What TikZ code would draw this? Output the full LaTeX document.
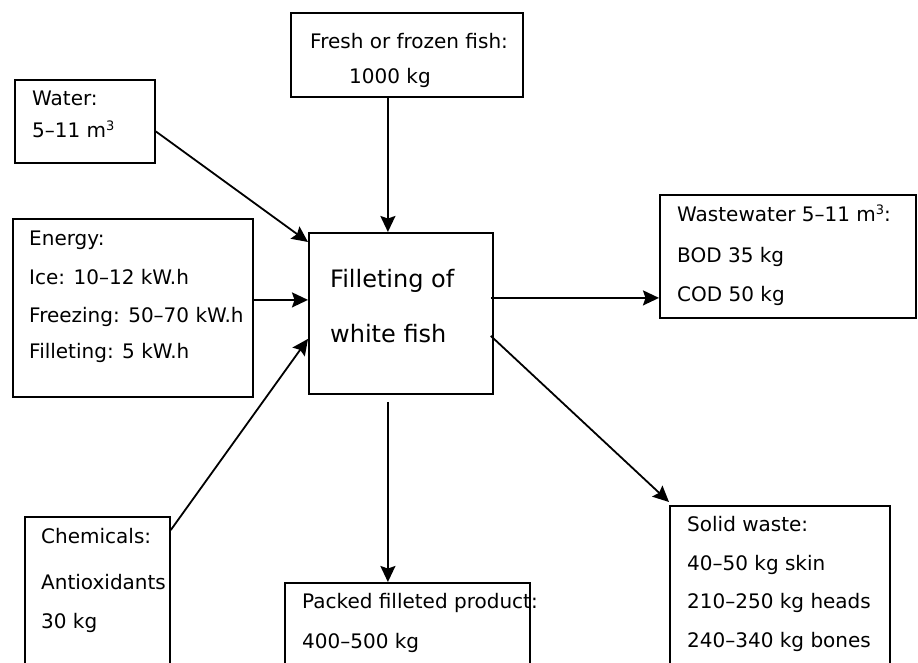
\documentclass[tikz,border=0pt]{standalone}
\usepackage{fontspec}
\setmainfont{DejaVu Sans}
\usetikzlibrary{arrows.meta,calc}
\newcommand{\cubed}{\raisebox{7pt}{\fontsize{13}{13}\selectfont 3}}
\tikzset{
  box/.style={draw, line width=1.8pt, rectangle, inner sep=0pt, anchor=north west},
  lbl/.style={anchor=base west, inner sep=0pt, font=\fontsize{20}{24}\selectfont},
  big/.style={anchor=base west, inner sep=0pt, font=\fontsize{24}{28}\selectfont},
  flow/.style={line width=1.8pt, -{Stealth[length=16pt,width=15pt,inset=2.5pt]}}
}
\begin{document}
\begin{tikzpicture}[x=1pt,y=-1pt]
\useasboundingbox (0,0) rectangle (918,662);
\clip (0,0) rectangle (918,662);
% boxes
\node[box, minimum width=232pt, minimum height=84pt] (fresh) at (290,12) {};
\node[box, minimum width=140pt, minimum height=83pt] (water) at (14,79) {};
\node[box, minimum width=240pt, minimum height=178pt] (energy) at (12,218) {};
\node[box, minimum width=184pt, minimum height=161pt] (central) at (308,232) {};
\node[box, minimum width=256pt, minimum height=123pt] (waste) at (659,194) {};
\node[box, minimum width=145pt, minimum height=170pt] (chem) at (24,516) {};
\node[box, minimum width=245pt, minimum height=100pt] (packed) at (284,582) {};
\node[box, minimum width=220pt, minimum height=180pt] (solid) at (669,505) {};
% texts
\node[lbl] (t1) at (310,48) {Fresh or frozen fish:};
\node[lbl] (t2) at (349,83) {1000 kg};
\node[lbl] (t3) at (32,105) {Water:};
\node[lbl] (t4) at (32,137) {5–11 m\cubed};
\node[lbl] (t5) at (29,245) {Energy:};
\node[lbl] (t6) at (29,284) {Ice: 10–12 kW.h};
\node[lbl] (t7) at (29,322) {Freezing: 50–70 kW.h};
\node[lbl] (t8) at (29,358) {Filleting: 5 kW.h};
\node[big] (t9) at (330,287) {Filleting of};
\node[big] (t10) at (330,342) {white fish};
\node[lbl] (t11) at (677,221) {Wastewater 5–11 m\cubed:};
\node[lbl] (t12) at (677,262) {BOD 35 kg};
\node[lbl] (t13) at (677,301) {COD 50 kg};
\node[lbl] (t14) at (41,543) {Chemicals:};
\node[lbl] (t15) at (41,589) {Antioxidants};
\node[lbl] (t16) at (41,628) {30 kg};
\node[lbl] (t17) at (302,608) {Packed filleted product:};
\node[lbl] (t18) at (302,648) {400–500 kg};
\node[lbl] (t19) at (687,531) {Solid waste:};
\node[lbl] (t20) at (687,570) {40–50 kg skin};
\node[lbl] (t21) at (687,608) {210–250 kg heads};
\node[lbl] (t22) at (687,647) {240–340 kg bones};
% connectors
\coordinate (fs) at ([xshift=-19pt]fresh.south);
\coordinate (ps) at ([xshift=-19.5pt]packed.north);
\coordinate (es) at ([yshift=8pt]energy.east);
\coordinate (ws) at ([xshift=-3pt,yshift=15.5pt]central.east);
\coordinate (ss) at ([xshift=-3pt,yshift=-22.5pt]central.east);
\draw[flow] ([yshift=-10pt]water.east) -- ([yshift=-10pt]central.north west);
\draw[flow] (fs) -- (fs |- central.north);
\draw[flow] (es) -- (central.west |- es);
\draw[flow] ([yshift=-14pt]chem.north east) -- ([yshift=-25.5pt]central.west);
\draw[flow] ([yshift=-7pt]ps |- central.south) -- (ps);
\draw[flow] (ws) -- (waste.west |- ws);
\draw[flow] (ss) -- ([yshift=3pt]solid.north west);
\end{tikzpicture}
\end{document}
